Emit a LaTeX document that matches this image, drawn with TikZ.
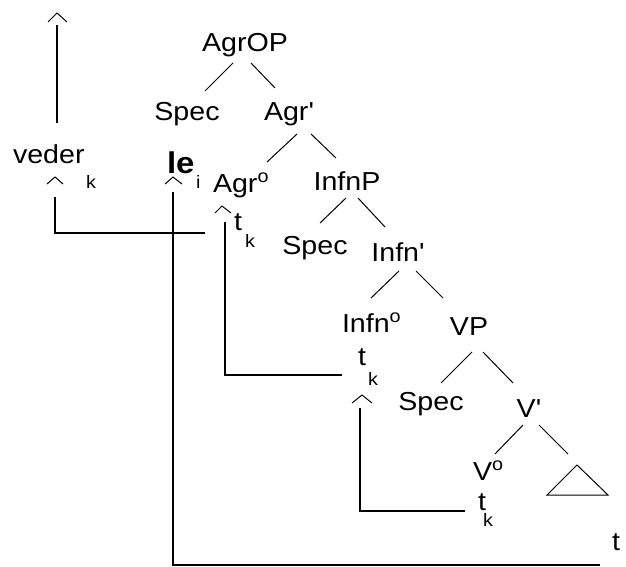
\documentclass[tikz,border=0pt]{standalone}
\usepackage{fontspec}
\setmainfont{Liberation Sans}[FakeStretch=1.1, Ligatures=TeXOff]
\newcommand\supo{{\fontsize{18}{18}\selectfont\raisebox{10pt}{o}}}
\tikzset{
  lbl/.style={inner sep=0pt, outer sep=0pt, font=\fontsize{26}{26}\selectfont},
  subk/.style={inner sep=0pt, outer sep=0pt, font=\fontsize{18}{18}\selectfont},
  branch/.style={line width=1pt},
  move/.style={line width=1.5pt},
  caret/.style={line width=1pt}
}
\begin{document}
\begin{tikzpicture}[x=1pt,y=-1pt]
\useasboundingbox (0,0) rectangle (626,567);
% labels
\node[lbl,anchor=base] (agrop) at (245,52) {AgrOP};
\node[lbl,anchor=base] (spec1) at (187,121) {Spec};
\node[lbl,anchor=base] (agrbar) at (289,121) {Agr'};
\node[lbl,anchor=base west] (veder) at (13,163) {veder};
\node[subk,anchor=base west] (vk) at (86,188) {k};
\node[lbl,anchor=base west,font=\fontsize{30}{30}\selectfont\bfseries] (le) at (167,173) {le};
\node[subk,anchor=base west] (li) at (196,188) {i};
\node[lbl,anchor=base west] (agr0) at (213,192) {Agr\supo};
\node[lbl,anchor=base] (infnp) at (347,190) {InfnP};
\node[lbl,anchor=base west] (t1) at (234,230) {t};
\node[subk,anchor=base west] (k1) at (245,247) {k};
\node[lbl,anchor=base] (spec2) at (315,254) {Spec};
\node[lbl,anchor=base] (infnbar) at (398,261) {Infn'};
\node[lbl,anchor=base west] (infn0) at (342,332) {Infn\supo};
\node[lbl,anchor=base] (vp) at (469,335) {VP};
\node[lbl,anchor=base west] (t2) at (358,365) {t};
\node[subk,anchor=base west] (k2) at (368,385) {k};
\node[lbl,anchor=base] (spec3) at (431,410) {Spec};
\node[lbl,anchor=base] (vbar) at (529,417) {V'};
\node[lbl,anchor=base west] (v0) at (473,480) {V\supo};
\node[lbl,anchor=base west] (t3) at (478,510) {t};
\node[subk,anchor=base west] (k3) at (483,526) {k};
\node[lbl,anchor=base west] (tfin) at (612,550) {t};
% branches
\coordinate (a1) at (233,63); \coordinate (a2) at (205,91);
\coordinate (a3) at (251,63); \coordinate (a4) at (275,88);
\coordinate (b1) at (297,134); \coordinate (b2) at (267,162);
\coordinate (b3) at (311,134); \coordinate (b4) at (336,158);
\coordinate (c1) at (346,198); \coordinate (c2) at (320,223);
\coordinate (c3) at (358,198); \coordinate (c4) at (385,227);
\coordinate (d1) at (399,271); \coordinate (d2) at (371,298);
\coordinate (d3) at (416,271); \coordinate (d4) at (443,298);
\coordinate (e1) at (472,352); \coordinate (e2) at (441,383);
\coordinate (e3) at (483,352); \coordinate (e4) at (513,383);
\coordinate (f1) at (523,425); \coordinate (f2) at (495,454);
\coordinate (f3) at (539,425); \coordinate (f4) at (568,454);
\draw[branch] (a1) -- (a2) (a3) -- (a4) (b1) -- (b2) (b3) -- (b4)
  (c1) -- (c2) (c3) -- (c4) (d1) -- (d2) (d3) -- (d4)
  (e1) -- (e2) (e3) -- (e4) (f1) -- (f2) (f3) -- (f4);
% triangle
\coordinate (tri1) at (577,465); \coordinate (tri2) at (547,495); \coordinate (tri3) at (608,495);
\draw[branch] (tri1) -- (tri2) -- (tri3) -- cycle;
% carets
\draw[caret] (48,22) -- (57,13) -- (67,22);
\draw[caret] (47,184) -- (55,177) -- (63,184);
\draw[caret] (165,184) -- (173,177) -- (182,184);
\draw[caret] (215,213) -- (222,206) -- (231,213);
\draw[caret] (352,403) -- (362,395) -- (372,403);
% movement lines
\coordinate (m0a) at (57,25); \coordinate (m0b) at (57,123);
\draw[move] (m0a) -- (m0b);
\coordinate (m1a) at (55,197); \coordinate (m1b) at (55,233); \coordinate (m1c) at (205,233);
\draw[move] (m1a) -- (m1b) -- (m1c);
\coordinate (m2a) at (173,192); \coordinate (m2b) at (173,565); \coordinate (m2c) at (600,565);
\draw[move] (m2a) -- (m2b) -- (m2c);
\coordinate (m3a) at (225,222); \coordinate (m3b) at (225,375); \coordinate (m3c) at (342,375);
\draw[move] (m3a) -- (m3b) -- (m3c);
\coordinate (m4a) at (360,408); \coordinate (m4b) at (360,511); \coordinate (m4c) at (465,511);
\draw[move] (m4a) -- (m4b) -- (m4c);
\end{tikzpicture}
\end{document}
